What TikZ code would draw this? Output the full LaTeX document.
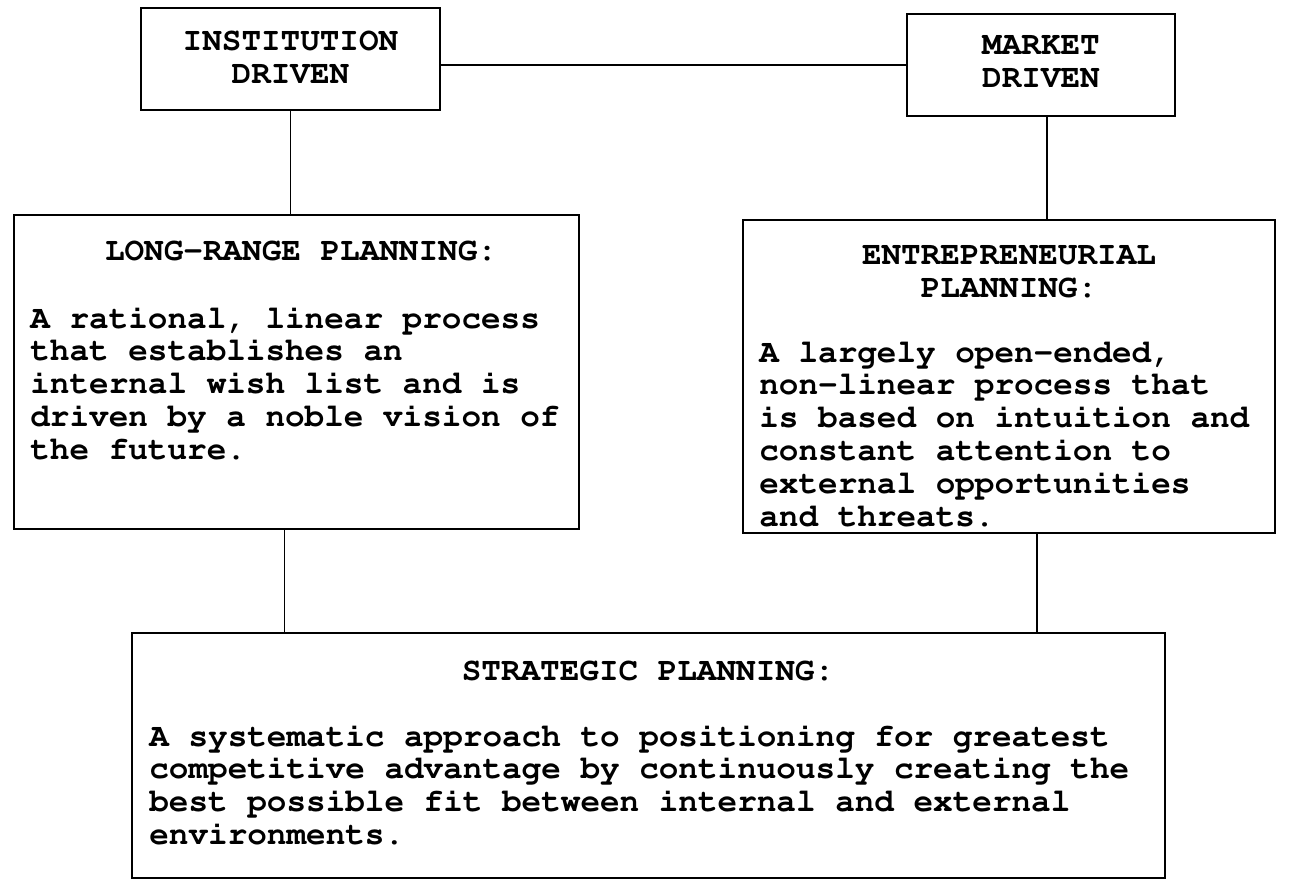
\documentclass[tikz,border=0pt]{standalone}
\usepackage[T1]{fontenc}
\usetikzlibrary{fit}
\begin{document}
\begin{tikzpicture}[x=0.5pt,y=-0.5pt,
  box/.style={draw, line width=1.4pt, inner sep=0pt},
  link/.style={line width=0.9pt},
  txt/.style={inner sep=0pt, font=\fontfamily{pcr}\fontseries{b}\fontsize{16.33}{16.4}\selectfont},
  body/.style={txt, align=left, anchor=north west},
  head/.style={txt, align=center, anchor=north}]
\useasboundingbox (0,0) rectangle (1298,881);

% boxes
\node[box, fit={(141,8) (440,110)}] (inst) {};
\node[box, fit={(907,14) (1175,116)}] (mkt) {};
\node[box, fit={(14,215) (579,529)}] (lrp) {};
\node[box, fit={(743,220) (1275,533)}] (ent) {};
\node[box, fit={(132,633) (1165,878)}] (stp) {};

% texts
\node[head] (instT) at (290.5,31) {INSTITUTION\\DRIVEN};
\node[head] (mktT) at (1041,36) {MARKET\\DRIVEN};

\node[head] (lrpT) at (301,241) {LONG-RANGE PLANNING:};
\node[body] (lrpB) at (30,306) {A rational, linear process\\that establishes an\\internal wish list and is\\driven by a noble vision of\\the future.};

\node[head] (entT) at (1009,246) {ENTREPRENEURIAL\\PLANNING:};
\node[body] (entB) at (759,341) {A largely open-ended,\\non-linear process that\\is based on intuition and\\constant attention to\\external opportunities\\and threats.};

\node[head] (stpT) at (648,661) {STRATEGIC PLANNING:};
\node[body] (stpB) at (149,724) {A systematic approach to positioning for greatest\\competitive advantage by continuously creating the\\best possible fit between internal and external\\environments.};

% connectors
\draw[link] (mkt.west -| inst.east) -- (mkt.west);
\draw[link] (inst.south) -- (inst.south |- lrp.north);
\draw[link] ([xshift=3pt]mkt.south) -- ([xshift=3pt]mkt.south |- ent.north);
\draw[link] ([xshift=-6pt]lrp.south) -- ([xshift=-6pt]lrp.south |- stp.north);
\draw[link] ([xshift=14pt]ent.south) -- ([xshift=14pt]ent.south |- stp.north);
\end{tikzpicture}
\end{document}
